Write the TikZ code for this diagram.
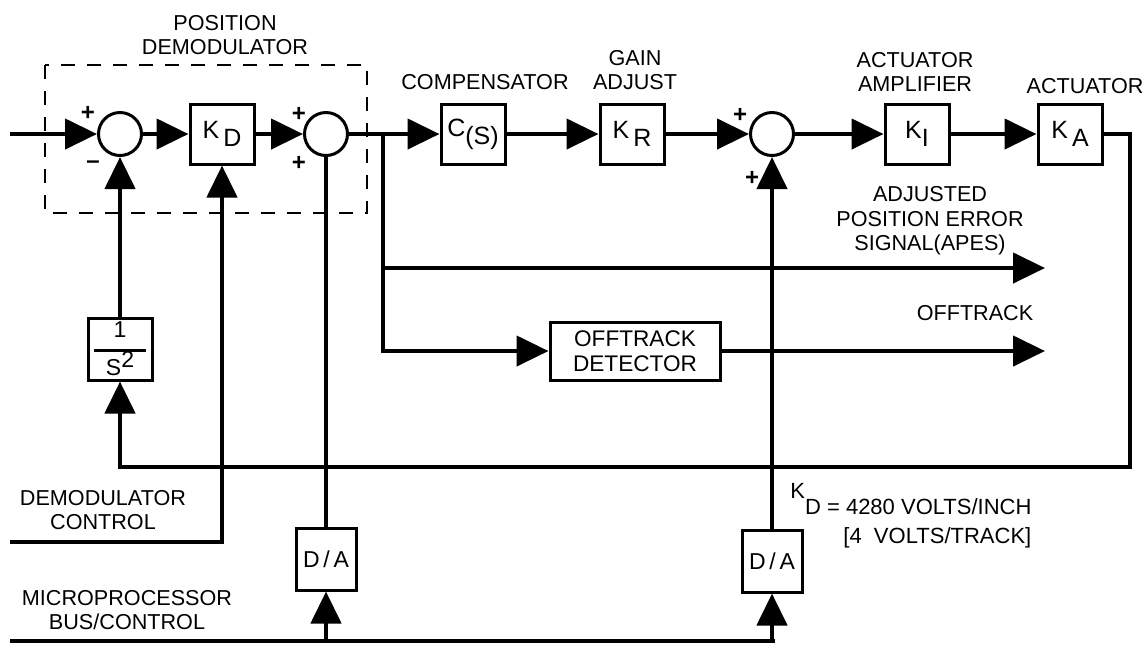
\documentclass[tikz,border=0pt]{standalone}
\usepackage{fontspec}
\setmainfont{Liberation Sans}
\usetikzlibrary{shapes, positioning, calc, arrows.meta}

\tikzset{
  blk/.style={draw, line width=1.5pt, minimum width=32pt, minimum height=30pt, inner sep=1pt, align=center, font=\fontsize{12.5}{14}\selectfont},
  sumnode/.style={draw, circle, line width=1.5pt, minimum size=21.5pt, inner sep=0pt},
  sig/.style={line width=2.2pt, -{Triangle[length=16pt,width=15pt]}},
  wire/.style={line width=2.2pt},
  lbl/.style={font=\fontsize{10.8}{12.2}\selectfont, align=center, inner sep=0pt},
  sgn/.style={font=\fontsize{12}{12}\selectfont\bfseries, inner sep=0pt},
}
\newcommand{\lowered}[1]{\raisebox{-4pt}{#1}}

\begin{document}
\begin{tikzpicture}[x=0.5pt, y=-0.5pt]
    \useasboundingbox (0,0) rectangle (1143,645);

    % Position demodulator
    \draw[line width=1.3pt, dash pattern=on 7pt off 6pt] (45,65) rectangle (367,213);
    \node[lbl] (demodlbl) at (225,35) {POSITION\\DEMODULATOR};

    \node[sumnode] (sumA) at (120,134) {};
    \node[blk] (kd) at (222,134) {K\,\lowered{D}};
    \node[sumnode] (sumB) at (326,134) {};

    % Forward path
    \node[blk] (comp) at (473,134) {C\lowered{(S)}};
    \node[lbl] (complbl) at (485,82) {COMPENSATOR};
    \node[blk] (gain) at (632,134) {K\,\lowered{R}};
    \node[lbl] (gainlbl) at (635,70) {GAIN\\ADJUST};
    \node[sumnode] (sumC) at (772,134) {};
    \node[blk] (ki) at (917,134) {K\lowered{I}};
    \node[lbl] (kilbl) at (915,72) {ACTUATOR\\AMPLIFIER};
    \node[blk] (ka) at (1070,134) {K\,\lowered{A}};
    \node[lbl] (kalbl) at (1085,86) {ACTUATOR};

    % Feedback and outputs
    \node[blk, minimum height=31pt, font=\fontsize{11.5}{12}\selectfont] (inv) at (120,349)
        {1\\[-5pt]\rule{26pt}{1.5pt}\\[-1pt]S\raisebox{4pt}{2}};
    \node[blk, minimum width=85pt, minimum height=29pt, font=\fontsize{11.3}{12.5}\selectfont] (offd) at (635,351) {OFFTRACK\\DETECTOR};
    \node[lbl] (apeslbl) at (930,221) {ADJUSTED\\POSITION ERROR\\SIGNAL(APES)};
    \node[lbl] (offlbl) at (975,313) {OFFTRACK};

    % Converters
    \node[blk, minimum width=30pt, minimum height=31pt, font=\fontsize{11.5}{12}\selectfont] (daL) at (326,559) {D\,/\,A};
    \node[blk, minimum width=30pt, minimum height=31pt, font=\fontsize{11.5}{12}\selectfont] (daR) at (772,561) {D\,/\,A};
    \node[lbl] (dclbl) at (103,510) {DEMODULATOR\\CONTROL};
    \node[lbl] (buslbl) at (127,610) {MICROPROCESSOR\\BUS/CONTROL};
    \node[lbl, align=left, anchor=north west, font=\fontsize{11}{14.5}\selectfont] (kdeq) at (790,483)
        {\raisebox{8pt}{K}D = 4280 VOLTS/INCH\\\hspace{26.5pt}[4\ \ VOLTS/TRACK]};

    % Signs
    \node[sgn] (pA) at (88,113) {+};
    \node[sgn] (mA) at (93,165) {--};
    \node[sgn] (pB1) at (299,114) {+};
    \node[sgn] (pB2) at (299,163) {+};
    \node[sgn] (pC1) at (740,115) {+};
    \node[sgn] (pC2) at (752,178) {+};

    % End points
    \coordinate (in) at (10,134);
    \coordinate (jn) at (383,134);
    \coordinate (fbR) at (1130,467);
    \coordinate (apes) at (1045,268);
    \coordinate (offout) at (1045,351);
    \coordinate (dc) at (10,542);
    \coordinate (bus) at (10,641);
    \coordinate (busE) at (775,641);

    % Connectors
    \draw[sig] (in) -- (sumA);
    \draw[sig] (sumA) -- (kd);
    \draw[sig] (kd) -- (sumB);
    \draw[sig] (sumB) -- (comp);
    \draw[sig] (comp) -- (gain);
    \draw[sig] (gain) -- (sumC);
    \draw[sig] (sumC) -- (ki);
    \draw[sig] (ki) -- (ka);
    \draw[sig] (ka) -| (fbR) -| (inv);
    \draw[sig] (inv) -- (sumA);
    \draw[sig] (jn) |- (apes);
    \draw[sig] (jn) |- (offd);
    \draw[sig] (offd) -- (offout);
    \draw[sig] (dc) -| (kd);
    \draw[wire] (daL) -- (sumB);
    \draw[sig] (daR) -- (sumC);
    \draw[wire] (bus) -- (busE);
    \draw[sig] (daL |- bus) -- (daL);
    \draw[sig] (daR |- bus) -- (daR);
\end{tikzpicture}
\end{document}
